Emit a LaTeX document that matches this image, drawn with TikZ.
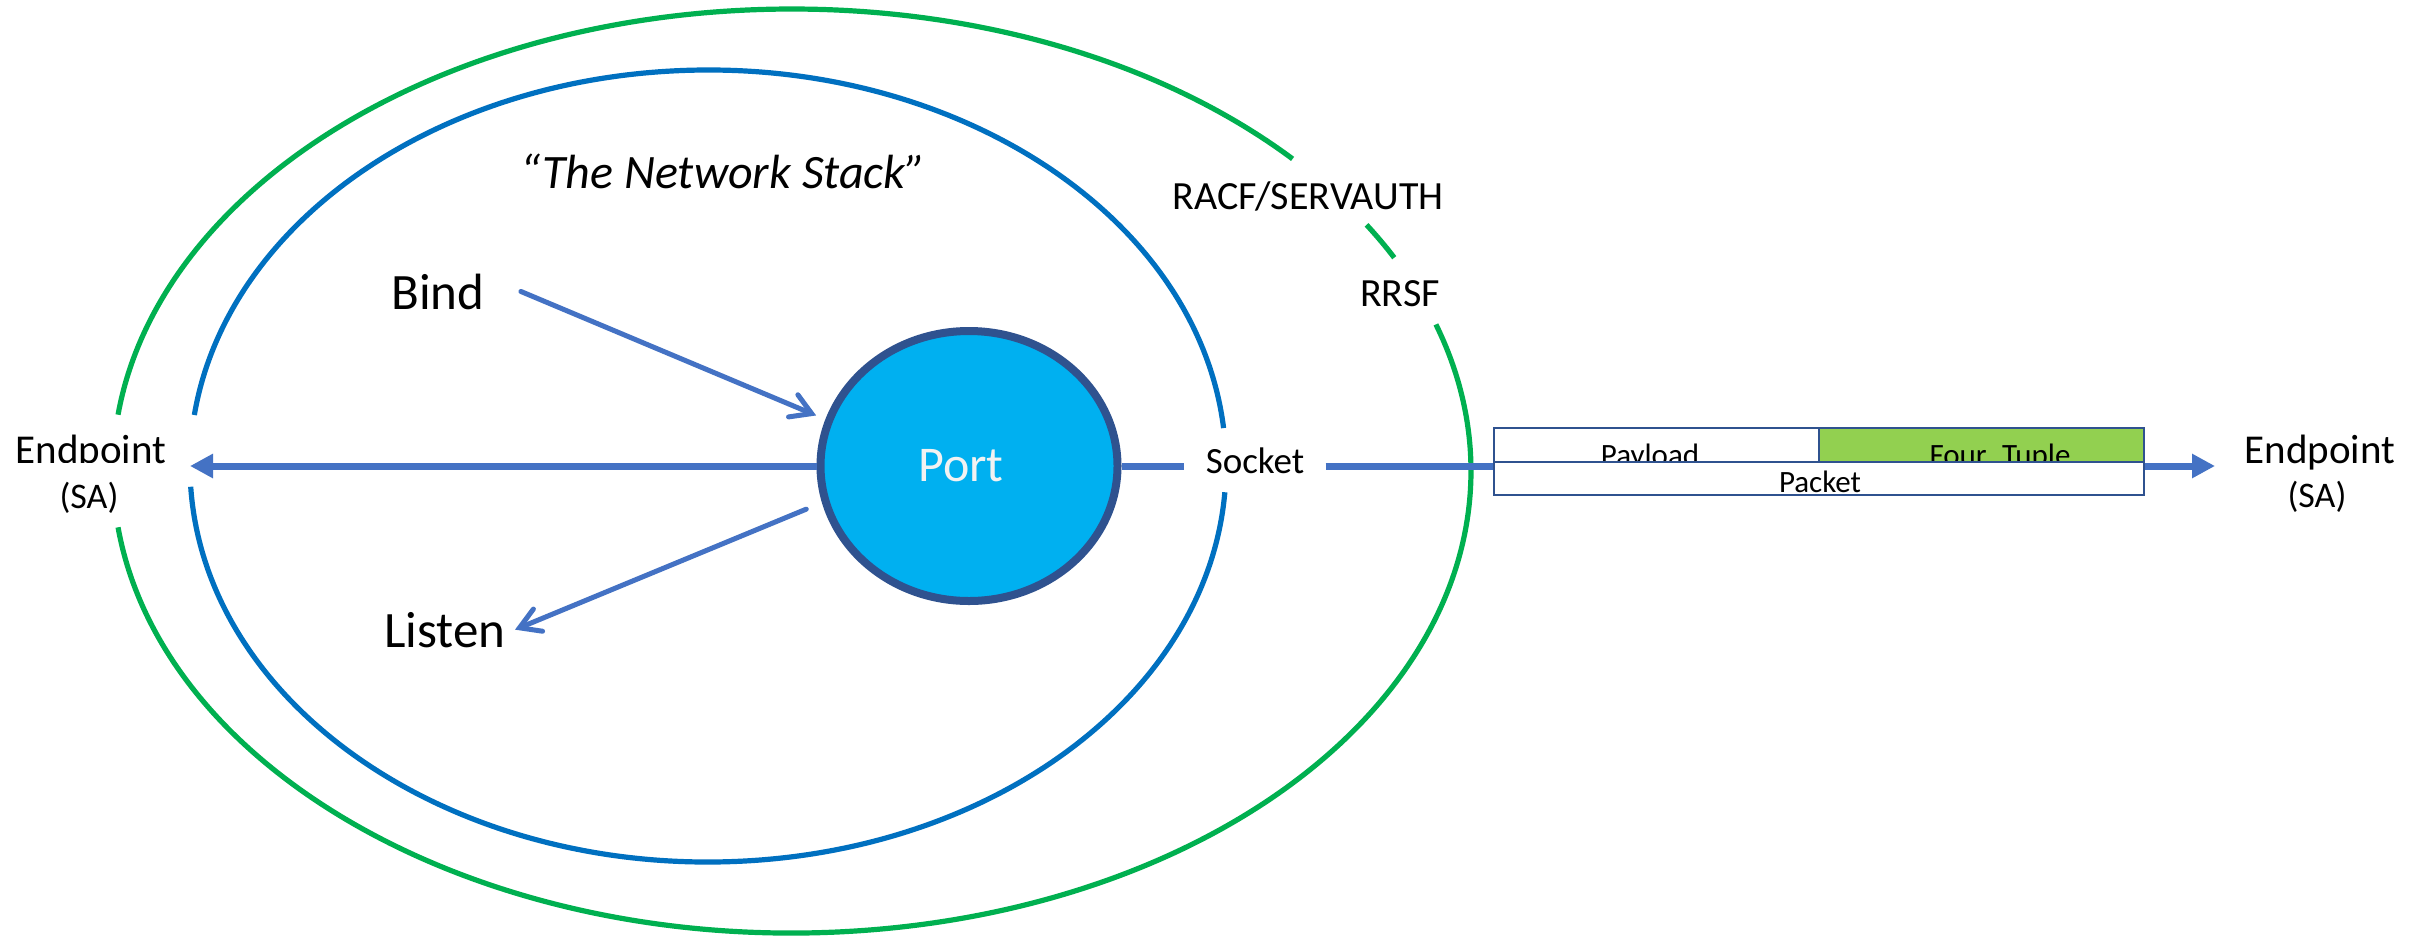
\documentclass[tikz,border=0pt]{standalone}
\usepackage{fontspec}
\setmainfont{Carlito}
\usetikzlibrary{arrows.meta,shapes.geometric,calc}
\definecolor{cgreen}{HTML}{00B050}
\definecolor{cblue}{HTML}{0070C0}
\definecolor{carrow}{HTML}{4472C4}
\definecolor{cportfill}{HTML}{00B0F0}
\definecolor{cportborder}{HTML}{2F528F}
\definecolor{ctuple}{HTML}{92D050}
\definecolor{cporttext}{HTML}{F2F2F2}
\begin{document}
\begin{tikzpicture}[x=0.5pt,y=-0.5pt,
  ring/.style={line width=2.6pt},
  mainline/.style={carrow,line width=3.5pt},
  mainarrow/.style={mainline,-{Triangle[length=11.5pt,width=11.5pt]}},
  barbarrow/.style={carrow,line width=2.5pt,line cap=round,-{Straight Barb[length=10pt,width=12pt,line cap=round]}},
  lbl/.style={anchor=base,inner sep=0pt,font=\fontsize{20}{24}\selectfont},
  cell/.style={draw=cportborder,line width=1.2pt,minimum height=17pt,inner sep=0pt},
  celltext/.style={anchor=base,inner sep=0pt,font=\fontsize{15.5}{18}\selectfont},
]
\fill[white] (0,0) rectangle (2425,938);
\useasboundingbox (0,0) rectangle (2425,938);

% outer ring (RACF / RRSF)
\coordinate (gc) at (792,471);
\draw[ring,cgreen] ([shift={(42.5:339.5pt and 231pt)}]gc) arc[start angle=42.5,end angle=173,x radius=339.5pt,y radius=231pt];
\draw[ring,cgreen] ([shift={(187:339.5pt and 231pt)}]gc) arc[start angle=187,end angle=378.5,x radius=339.5pt,y radius=231pt];
\draw[ring,cgreen] ([shift={(27.5:339.5pt and 231pt)}]gc) arc[start angle=27.5,end angle=32.2,x radius=339.5pt,y radius=231pt];

% inner ring (network stack)
\coordinate (bc) at (708,466);
\draw[ring,cblue] ([shift={(5.5:259pt and 198pt)}]bc) arc[start angle=5.5,end angle=172.6,x radius=259pt,y radius=198pt];
\draw[ring,cblue] ([shift={(183:259pt and 198pt)}]bc) arc[start angle=183,end angle=356.2,x radius=259pt,y radius=198pt];

% port
\node[ellipse,draw=cportborder,fill=cportfill,line width=4pt,minimum width=148.5pt,minimum height=135pt,inner sep=0pt,text=cporttext,font=\fontsize{25}{30}\selectfont] (port) at (969,466) {Port\hspace*{8pt}};

% main line
\coordinate (tipL) at (190,466);
\coordinate (tipR) at (2215,466);
\node[lbl,font=\fontsize{18.5}{22}\selectfont,inner xsep=10.5pt] (socket) at (1255,473) {Socket};
\draw[mainarrow] (port.west) -- (tipL);
\draw[mainline] (port.east) -- (socket.west |- port.east);
\draw[mainarrow] (socket.east |- port.east) -- (tipR);

% labels
\node[lbl] (racf) at (1308,209) {RACF/SERVAUTH};
\node[lbl] (rrsf) at (1400,306) {RRSF};
\node[lbl,font=\fontsize{24}{29}\selectfont\itshape] (stack) at (723,188) {“The Network Stack”};

% bind / listen
\node[lbl,font=\fontsize{25.5}{30}\selectfont,inner xsep=18pt] (bind) at (438,309) {Bind};
\node[lbl,font=\fontsize{25.5}{30}\selectfont,inner xsep=4.5pt] (listen) at (445,647) {Listen};
\draw[barbarrow,shorten >=5pt] (bind.east) -- (port.162);
\draw[barbarrow,shorten <=8.5pt] (port.194) -- (listen.east);

% endpoints
\node[lbl,font=\fontsize{20.5}{24}\selectfont] (epL) at (91,463) {Endpoint};
\node[lbl,font=\fontsize{18}{22}\selectfont,fill=white,text height=22.5pt,text depth=5pt,inner xsep=8pt] (saL) at (89,508) {(SA)};
\node[lbl,font=\fontsize{20.5}{24}\selectfont] (epR) at (2320,463) {Endpoint};
\node[lbl,font=\fontsize{18}{22}\selectfont] (saR) at (2317,507) {(SA)};

% packet
\node[cell,fill=white,minimum width=162.5pt] (payload) at (1656.5,445) {};
\node[cell,fill=ctuple,minimum width=162.5pt] (tuple) at (1981.5,445) {};
\node[celltext] (payloadtxt) at (1650,465) {Payload};
\node[celltext] (tupletxt) at (2000,465) {Four\hspace{0.498em}Tuple};
\node[cell,fill=white,minimum width=325pt,minimum height=16.5pt] (packet) at (1819,478.5) {};
\node[celltext] (packettxt) at (1820,492) {Packet};
\end{tikzpicture}
\end{document}
